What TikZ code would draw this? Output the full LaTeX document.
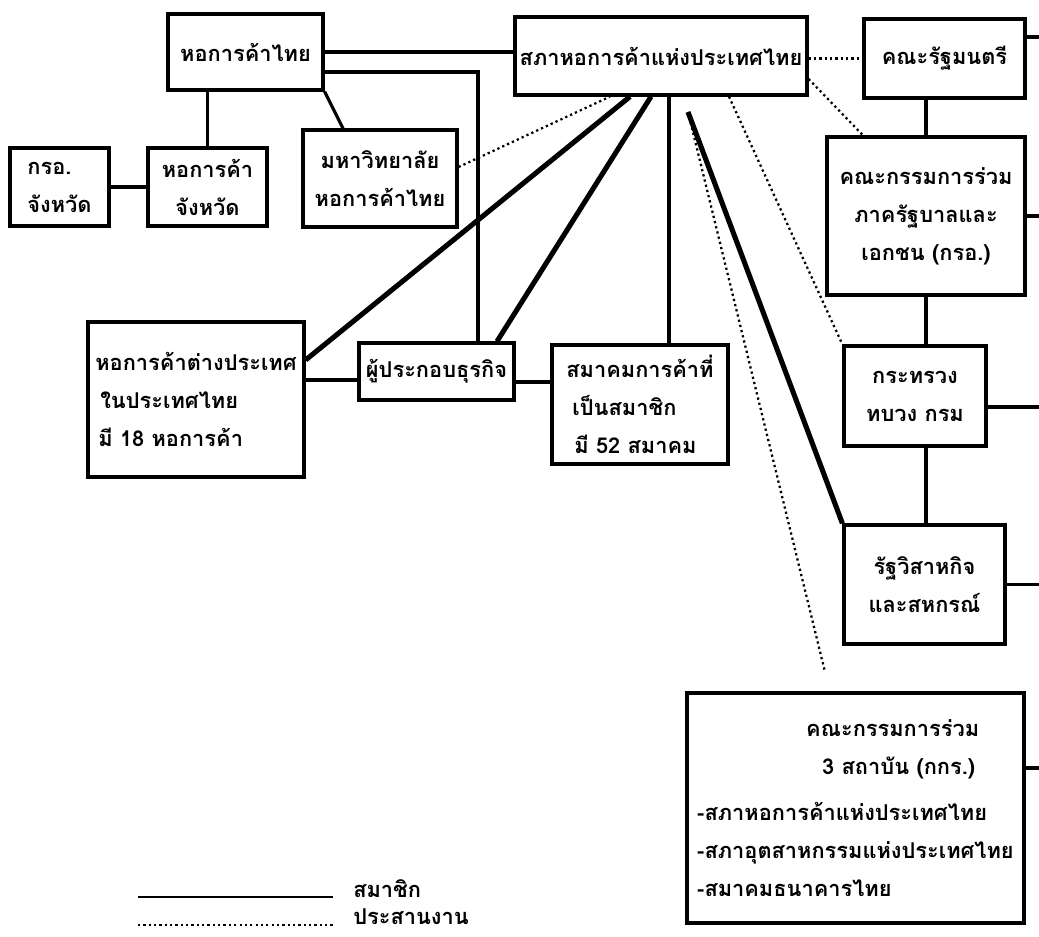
\documentclass[tikz,border=0pt]{standalone}
\usepackage{fontspec}
\newfontfamily\thaifont[Script=Thai]{Loma}
\newlength\pxu
\setlength\pxu{0.025cm}
\begin{document}
\begin{tikzpicture}[x=0.025cm,y=-0.025cm]

    \tikzset{
      box/.style={
        draw,
        line width=2.3pt,
        inner sep=0pt,
        align=center,
        font=\thaifont\bfseries\fontsize{15.5}{27}\selectfont,
      },
      link/.style={line width=2.2pt},
      heavy/.style={line width=3.6pt},
      coop/.style={line width=1.6pt, dash pattern=on 1.6pt off 2.2pt},
      legend/.style={font=\thaifont\bfseries\fontsize{15.5}{27}\selectfont, anchor=west, inner sep=0pt},
    }
    \useasboundingbox (0,0) rectangle (1039,937);

    % boxes
    \node[box, minimum width=155\pxu, minimum height=76\pxu] (thaicc) at (245.5,52) {หอการค้าไทย};
    \node[box, align=left, minimum width=99\pxu, minimum height=78\pxu] (pjppcc) at (59.5,187) {กรอ.\\จังหวัด};
    \node[box, minimum width=119\pxu, minimum height=78\pxu] (provcc) at (207.5,187) {หอการค้า\\จังหวัด};
    \node[box, minimum width=154\pxu, minimum height=97\pxu] (univ) at (380,178.5) {มหาวิทยาลัย\\หอการค้าไทย};
    \node[box, minimum width=292\pxu, minimum height=78\pxu] (btcc) at (661,56) {สภาหอการค้าแห่งประเทศไทย};
    \node[box, minimum width=161\pxu, minimum height=79\pxu] (cabinet) at (944.5,58.5) {คณะรัฐมนตรี};
    \node[box, minimum width=198\pxu, minimum height=158\pxu] (jppcc) at (926,216) {คณะกรรมการร่วม\\ภาครัฐบาลและ\\เอกชน (กรอ.)};
    \node[box, align=left, minimum width=216\pxu, minimum height=155\pxu] (foreigncc) at (196,399.5) {หอการค้าต่างประเทศ\\\hspace*{5\pxu}ในประเทศไทย\\\hspace*{3\pxu}มี 18 หอการค้า};
    \node[box, minimum width=155\pxu, minimum height=57\pxu] (business) at (436.5,371.5) {ผู้ประกอบธุรกิจ};
    \node[box, align=left, minimum width=176\pxu, minimum height=119\pxu] (tradeassoc) at (640,404.5) {สมาคมการค้าที่\\\hspace*{6\pxu}เป็นสมาชิก\\\hspace*{8\pxu}มี 52 สมาคม};
    \node[box, minimum width=142\pxu, minimum height=100\pxu] (ministry) at (915,396) {กระทรวง\\ทบวง กรม};
    \node[box, minimum width=161\pxu, minimum height=119\pxu] (stateent) at (924.5,584.5) {รัฐวิสาหกิจ\\และสหกรณ์};
    \node[box, align=left, minimum width=337\pxu, minimum height=230\pxu] (kkr) at (855.5,808) {\hspace*{109\pxu}คณะกรรมการร่วม\\\hspace*{125\pxu}3 สถาบัน (กกร.)\\[6pt]-สภาหอการค้าแห่งประเทศไทย\\-สภาอุตสาหกรรมแห่งประเทศไทย\\-สมาคมธนาคารไทย};

    \coordinate (gap) at (688,112);
    \coordinate (kkrtip) at (825,672);

    % members
    \draw[link] (thaicc.east) -- (btcc.west |- thaicc.east);
    \draw[link] (thaicc.east |- 0,72) -| (business.north -| 478,0);
    \draw[link] (provcc.north) -- (provcc.north |- thaicc.south);
    \draw[link] (thaicc.south east) -- (univ.north -| 343,0);
    \draw[link] (pjppcc.east) -- (provcc.west);
    \draw[link] (btcc.south -| 669,0) -- (tradeassoc.north -| 669,0);
    \draw[link] (foreigncc.east |- 0,380) -- (business.west |- 0,380);
    \draw[link] (business.east |- 0,382) -- (tradeassoc.west |- 0,382);
    \draw[link] (cabinet.south -| jppcc.north) -- (jppcc.north);
    \draw[link] (jppcc.south) -- (jppcc.south |- ministry.north);
    \draw[link] (ministry.south -| jppcc.south) -- (stateent.north -| jppcc.south);
    \draw[heavy] (btcc.south -| 630,0) -- (foreigncc.east |- 0,360);
    \draw[heavy] (btcc.south -| 651,0) -- (business.north -| 497,0);
    \draw[heavy] (gap) -- (stateent.north west);
    \draw[link] (cabinet.east |- 0,37) -- ++(20,0);
    \draw[link] (jppcc.east) -- ++(20,0);
    \draw[link] (ministry.east |- 0,407) -- ++(60,0);
    \draw[link] (stateent.east) -- ++(40,0);
    \draw[link] (kkr.east |- 0,768) -- ++(20,0);

    % coordination
    \draw[coop] (univ.east |- 0,167) -- (btcc.south -| 610,0);
    \draw[coop] (gap) -- (kkrtip);
    \draw[coop] (btcc.south -| 729,0) -- (ministry.north west);
    \draw[coop] (btcc.east |- 0,79) -- (jppcc.north -| 863,0);
    \draw[coop] (btcc.east |- cabinet.west) -- (cabinet.west);

    % legend
    \draw[line width=1.5pt] (138,897) -- (333,897);
    \node[legend] (lmember) at (353,889) {สมาชิก};
    \draw[coop, line width=1.2pt] (138,925) -- (333,925);
    \node[legend] (lcoop) at (353,917) {ประสานงาน};

\end{tikzpicture}
\end{document}
